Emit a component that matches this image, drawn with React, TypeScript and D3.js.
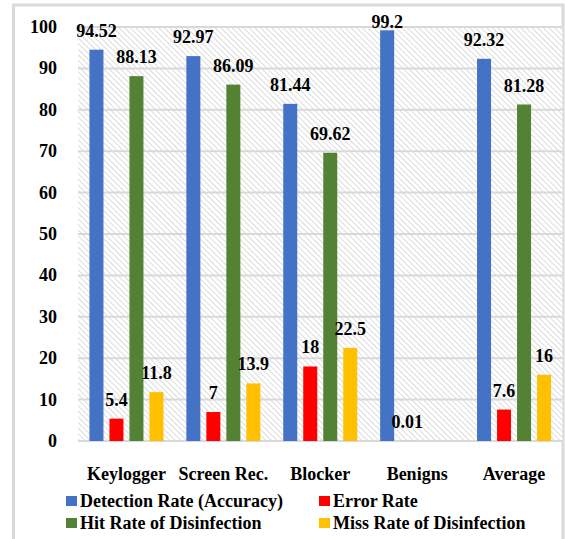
import React from "react";
import * as d3 from "d3";

const categories = ["Keylogger", "Screen Rec.", "Blocker", "Benigns", "Average"];
const seriesNames = [
  "Detection Rate (Accuracy)",
  "Error Rate",
  "Hit Rate of Disinfection",
  "Miss Rate of Disinfection",
];
const detectionRate = [94.52, 92.97, 81.44, 99.2, 92.32];
const errorRate = [5.4, 7, 18, 0.01, 7.6];
const hitRate = [88.13, 86.09, 69.62, null, 81.28];
const missRate = [11.8, 13.9, 22.5, null, 16];
const yTicks = [0, 10, 20, 30, 40, 50, 60, 70, 80, 90, 100];
const colors = ["#4472C4", "#FF0000", "#548235", "#FFC000"];

const css = `
.ch text { font-family: "Liberation Serif", "Times New Roman", Tinos, serif; font-weight: bold; font-size: 18px; fill: #000; }
`;

export default function App() {
  const seriesValues = [detectionRate, errorRate, hitRate, missRate];
  const x0 = d3.scaleBand().domain(categories).range([78, 562.5]).padding(0);
  const x1 = d3.scaleBand().domain(seriesNames).range([-37, 37]).paddingInner(0.3).paddingOuter(0);
  const y = d3.scaleLinear().domain([0, 100]).range([441, 27]);
  const bw = x1.bandwidth();

  const legendItems = [
    { name: seriesNames[0], color: colors[0], x: 66, y: 496 },
    { name: seriesNames[1], color: colors[1], x: 319, y: 496 },
    { name: seriesNames[2], color: colors[2], x: 66, y: 518 },
    { name: seriesNames[3], color: colors[3], x: 319, y: 518 },
  ];

  const bars = [];
  const labels = [];
  categories.forEach((c, i) => {
    const cx = x0(c) + x0.bandwidth() / 2;
    seriesNames.forEach((s, j) => {
      const v = seriesValues[j][i];
      if (v === null) return;
      const bx = cx + x1(s);
      const top = y(v);
      bars.push(<rect key={"b" + i + j} x={bx} y={top} width={bw} height={y(0) - top} fill={colors[j]} />);
      labels.push(
        <text key={"l" + i + j} x={bx + bw / 2} y={Math.max(top - 13, 28)} textAnchor="middle">
          {String(v)}
        </text>
      );
    });
    labels.push(
      <text key={"c" + i} x={cx} y={480} textAnchor="middle">
        {c}
      </text>
    );
  });

  return (
    <svg className="ch" width={565} height={539} style={{ position: "absolute", left: 0, top: 0 }}>
      <style>{css}</style>
      <defs>
        <pattern id="hatch3" patternUnits="userSpaceOnUse" width={4} height={4} patternTransform="rotate(-45)">
          <rect width={4} height={4} fill="#ffffff" />
          <line x1={0} y1={0} x2={0} y2={4} stroke="#dcdcdc" strokeWidth={2} />
        </pattern>
      </defs>
      <rect x={0} y={0} width={565} height={539} fill="#ffffff" />
      <rect x={13.5} y={5} width={549.5} height={560} fill="#ffffff" stroke="#d9d9d9" strokeWidth={3} />
      <rect x={78} y={y(100)} width={562.5 - 78} height={y(0) - y(100)} fill="url(#hatch3)" />
      {yTicks.map((t) => (
        <line key={"g" + t} x1={78} x2={562.5} y1={y(t)} y2={y(t)} stroke="#d9d9d9" strokeWidth={2} />
      ))}
      {yTicks.map((t) => (
        <text key={"t" + t} x={57} y={y(t) + 6} textAnchor="end">
          {t}
        </text>
      ))}
      {bars}
      {labels}
      {legendItems.map((l) => (
        <g key={l.name}>
          <rect x={l.x} y={l.y} width={11} height={10} fill={l.color} />
          <text x={l.x + 14} y={l.y + 11}>
            {l.name}
          </text>
        </g>
      ))}
    </svg>
  );
}
